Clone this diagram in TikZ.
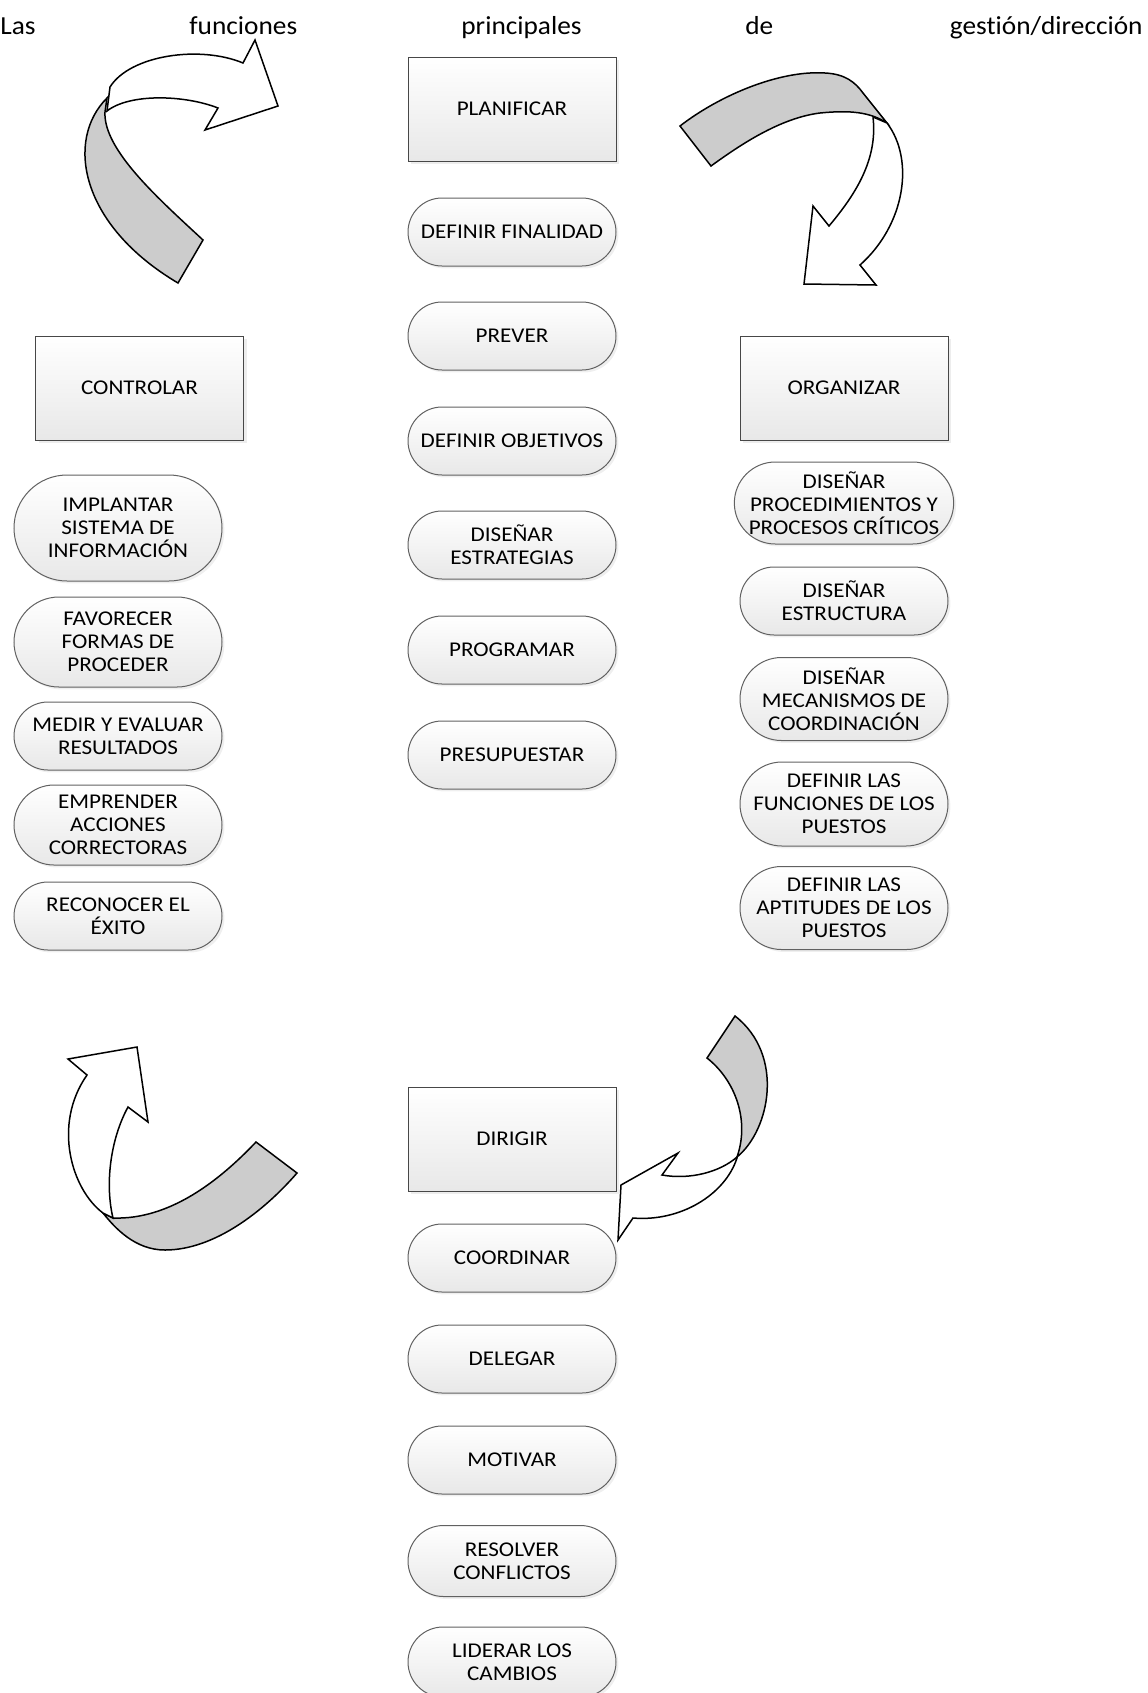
\documentclass[tikz,border=0pt]{standalone}
\usepackage{fontspec}
\setmainfont{Carlito}[FakeStretch=1.1, Ligatures={NoCommon,NoRare}]
\newfontfamily\titlefamily{Carlito}[FakeStretch=1.05, Ligatures={NoCommon,NoRare}]
\usetikzlibrary{shapes.misc,shadows}
\newcommand{\dfont}{\fontsize{10.5}{11.4}\selectfont}
\newcommand{\tfont}{\titlefamily\fontsize{13}{15}\selectfont}
\tikzset{
  boxnode/.style={rectangle, draw=black!72, line width=0.5pt, top color=white, bottom color=black!9,
    minimum width=104pt, minimum height=52pt, inner sep=0pt, font=\dfont, align=center,
    drop shadow={shadow xshift=1.6pt, shadow yshift=-1.6pt, fill=black!14}},
  pill/.style={rounded rectangle, draw=black!62, line width=0.5pt, top color=white, bottom color=black!9,
    minimum width=104pt, minimum height=34pt, inner sep=0pt, font=\dfont, align=center,
    drop shadow={shadow xshift=1.2pt, shadow yshift=-1.2pt, fill=black!12}},
  band/.style={draw=black, line width=0.75pt, fill=black!20, line join=miter},
  ribbon/.style={draw=black, line width=0.75pt, fill=white, line join=miter},
  titleword/.style={inner sep=0pt, font=\tfont},
}
\begin{document}
\begin{tikzpicture}[x=0.5pt, y=-0.5pt]
\useasboundingbox (0,0) rectangle (1147,1693);

% title
\node[titleword, anchor=base west] (t1) at (0,34) {Las};
\node[titleword, anchor=base west] (t2) at (189,34) {funciones};
\node[titleword, anchor=base west] (t3) at (461,34) {principales};
\node[titleword, anchor=base west] (t4) at (745,34) {de};
\node[titleword, anchor=base east] (t5) at (1143,34) {gest\kern0pt ión/dirección};

% arrow top-left
\draw[band] (178,283) -- (203,240) .. controls (160,200) and (103,150) .. (105,112)
  -- (107,98) .. controls (65,140) and (80,225) .. (178,283) -- cycle;
\draw[ribbon] (110,87) .. controls (130,55) and (200,45) .. (243,63) -- (255,40) -- (278,106)
  -- (205,130) -- (218,108) .. controls (185,95) and (130,93) .. (107,111) -- cycle;

% arrow top-right
\draw[band] (680,126) .. controls (720,95) and (780,70) .. (825,73)
  .. controls (845,74) and (855,82) .. (863,93) -- (887,123)
  .. controls (870,112) and (850,110) .. (820,113)
  .. controls (780,118) and (740,145) .. (711,166) -- cycle;
\draw[ribbon] (887,123) .. controls (915,160) and (905,225) .. (860,265) -- (876,285) -- (804,284)
  -- (813,206) -- (829,226) .. controls (855,195) and (878,160) .. (873,117) -- cycle;

% arrow bottom-right
\draw[band] (735,1016) -- (707,1058) .. controls (735,1080) and (750,1120) .. (737,1157)
  .. controls (770,1130) and (785,1055) .. (735,1016) -- cycle;
\draw[ribbon] (737,1158) .. controls (725,1195) and (680,1222) .. (633,1218) -- (618,1240)
  -- (621,1185) -- (678,1153) -- (662,1175) .. controls (690,1180) and (720,1172) .. (737,1157) -- cycle;

% arrow bottom-left
\draw[band] (256,1142) -- (297,1173) .. controls (265,1210) and (215,1250) .. (165,1250)
  .. controls (135,1250) and (115,1228) .. (103,1213) -- (113,1218)
  .. controls (170,1220) and (220,1180) .. (256,1142) -- cycle;
\draw[ribbon] (103,1213) .. controls (72,1190) and (52,1125) .. (87,1075) -- (68,1059) -- (137,1047)
  -- (148,1122) -- (128,1107) .. controls (110,1140) and (105,1185) .. (113,1218) -- cycle;

% PLANIFICAR column
\node[boxnode] (plan) at (512,109) {PLANIFICAR};
\node[pill] (p1) at (512,232) {DEFINIR FINALIDAD};
\node[pill] (p2) at (512,336) {PREVER};
\node[pill] (p3) at (512,441) {DEFINIR OBJETIVOS};
\node[pill] (p4) at (512,545) {DISEÑAR\\ESTRATEGIAS};
\node[pill] (p5) at (512,650) {PROGRAMAR};
\node[pill] (p6) at (512,755) {PRESUPUESTAR};

% CONTROLAR column
\node[boxnode] (ctrl) at (139.5,388) {CONTROLAR};
\node[pill, minimum height=53pt] (c1) at (118,528) {IMPLANTAR\\SISTEMA DE\\INFORMACIÓN};
\node[pill, minimum height=45pt] (c2) at (118,642) {FAVORECER\\FORMAS DE\\PROCEDER};
\node[pill] (c3) at (118,736) {MEDIR Y EVALUAR\\RESULTADOS};
\node[pill, minimum height=40pt] (c4) at (118,825) {EMPRENDER\\ACCIONES\\CORRECTORAS};
\node[pill] (c5) at (118,916) {RECONOCER EL\\ÉXITO};

% ORGANIZAR column
\node[boxnode] (org) at (844,388) {ORGANIZAR};
\node[pill, minimum height=41pt] (o1) at (844,503) {DISEÑAR\\PROCEDIMIENTOS Y\\PROCESOS CRÍTICOS};
\node[pill] (o2) at (844,601) {DISEÑAR\\ESTRUCTURA};
\node[pill, minimum height=41.5pt] (o3) at (844,699) {DISEÑAR\\MECANISMOS DE\\COORDINACIÓN};
\node[pill, minimum height=42pt] (o4) at (844,804) {DEFINIR LAS\\FUNCIONES DE LOS\\PUESTOS};
\node[pill, minimum height=41.5pt] (o5) at (844,908) {DEFINIR LAS\\APTITUDES DE LOS\\PUESTOS};

% DIRIGIR column
\node[boxnode] (dir) at (512,1139) {DIRIGIR};
\node[pill] (d1) at (512,1258) {COORDINAR};
\node[pill] (d2) at (512,1359) {DELEGAR};
\node[pill] (d3) at (512,1460) {MOTIVAR};
\node[pill, minimum height=35.5pt] (d4) at (512,1561) {RESOLVER\\CONFLICTOS};
\node[pill, minimum height=35pt] (d5) at (512,1662) {LIDERAR LOS\\CAMBIOS};
\end{tikzpicture}
\end{document}
